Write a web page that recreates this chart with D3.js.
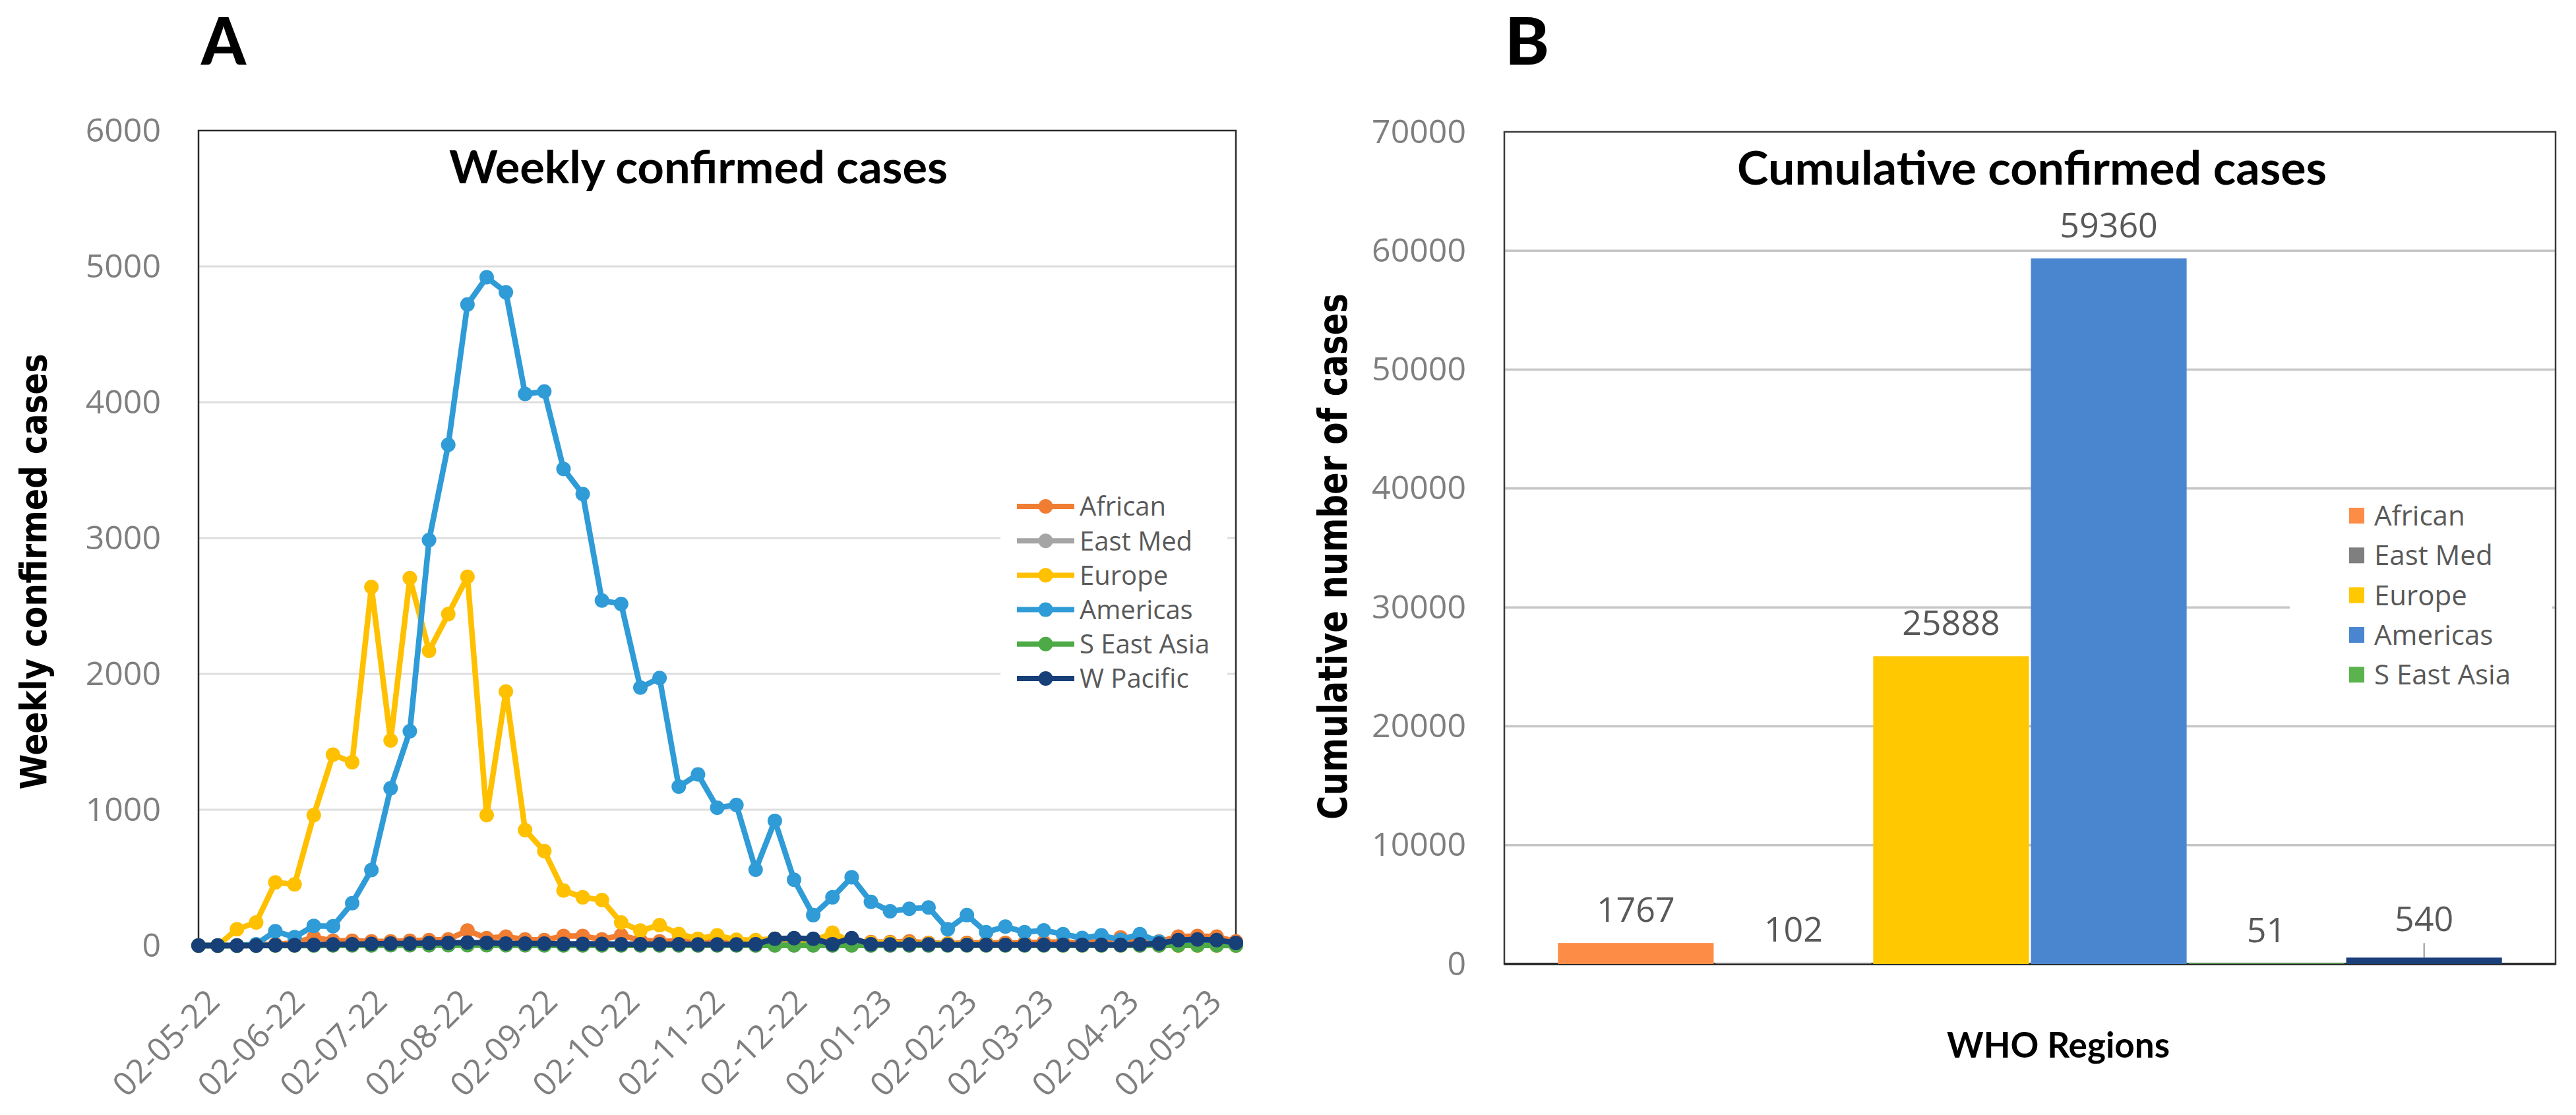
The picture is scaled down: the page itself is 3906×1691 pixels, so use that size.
<!DOCTYPE html>
<html><head><meta charset="utf-8">
<script src="https://cdn.jsdelivr.net/npm/d3@7"></script>
<style>
html,body{margin:0;padding:0;background:#fff;}
svg{display:block;}
</style>
</head><body>
<svg id="chart" width="3906" height="1691"></svg>
<script>
// ---------------- DATA ----------------
const regions = ["African", "East Med", "Europe", "Americas", "S East Asia", "W Pacific"];
const firstWeek = "2022-05-02";
const xTickDates = ["2022-05-02","2022-06-02","2022-07-02","2022-08-02","2022-09-02","2022-10-02",
  "2022-11-02","2022-12-02","2023-01-02","2023-02-02","2023-03-02","2023-04-02","2023-05-02"];
const yTicksA = [0, 1000, 2000, 3000, 4000, 5000, 6000];
const yTicksB = [0, 10000, 20000, 30000, 40000, 50000, 60000, 70000];

// weekly confirmed cases (55 weeks)
const weeklyAfrican = [0,0,0,5,10,20,60,35,35,30,30,35,40,45,110,55,65,45,40,70,70,45,75,40,30,35,25,30,30,25,
  30,25,20,25,30,25,25,30,20,15,20,20,20,20,25,25,20,30,60,35,30,65,70,65,30];
const weeklyEastMed = [0,0,0,0,2,3,5,3,4,3,5,4,3,5,6,5,4,3,4,3,2,3,2,2,2,2,1,2,2,1,
  2,2,2,1,2,1,1,1,1,1,1,1,1,1,1,1,1,1,1,1,1,1,1,1,1];
const weeklyEurope = [0,0,120,170,465,450,960,1405,1350,2640,1510,2705,2170,2440,2715,960,1870,850,695,405,
  355,335,170,110,150,85,50,75,42,40,50,42,30,95,25,20,20,15,15,12,10,8,6,5,4,3,3,2,2,2,2,1,1,1,1];
const weeklyAmericas = [0,0,0,10,105,62,145,142,312,556,1158,1578,2985,3687,4720,4920,4809,4061,4079,3509,
  3324,2540,2515,1899,1970,1170,1260,1015,1035,558,918,484,224,355,503,322,252,271,280,120,
  224,98,140,98,112,84,56,75,42,84,28,28,25,28,10];
const weeklySEAsia = [0,0,0,0,0,0,0,1,1,1,2,2,2,3,2,2,2,2,1,1,1,1,1,1,1,1,1,1,1,1,
  1,1,1,1,1,1,1,1,1,1,1,1,1,1,1,1,1,1,1,1,1,1,1,1,0];
const weeklyWPacific = [0,0,0,0,2,3,5,8,10,12,15,15,18,20,22,20,15,15,15,12,12,12,10,10,10,10,8,8,8,10,
  50,55,50,10,55,10,8,8,8,5,5,5,5,5,5,5,5,5,5,10,15,40,45,40,20];

// cumulative confirmed cases by WHO region
const cumulativeTotals = [1767, 102, 25888, 59360, 51, 540];
const legendBRegions = ["African", "East Med", "Europe", "Americas", "S East Asia"];

// ---------------- STYLE ----------------
const lineColors = ["#f07d32", "#a5a5a5", "#ffc000", "#2f9bd7", "#4eaa46", "#173f78"];
const barColors  = ["#fd8c47", "#7f7f7f", "#ffc800", "#4a86cf", "#5bb34d", "#1a3f7a"];
const tickFont = "'Open Sans', sans-serif";
const titleFont = "Lato, 'Open Sans', sans-serif";
const axisTitleFont = "'DejaVu Sans', Verdana, sans-serif";

const svg = d3.select("#chart");
const parse = d3.utcParse("%Y-%m-%d");
const fmt = d3.utcFormat("%d-%m-%y");
const weeklySeries = [weeklyAfrican, weeklyEastMed, weeklyEurope, weeklyAmericas, weeklySEAsia, weeklyWPacific];

// ================= PANEL A =================
const A = {left: 301, right: 1874, top: 198, bottom: 1434};
const start = parse(firstWeek);
const weekDates = weeklyAfrican.map((_, i) => d3.utcDay.offset(start, 7 * i));
const xA = d3.scaleUtc().domain([weekDates[0], weekDates[weekDates.length - 1]]).range([A.left, A.right]);
const yA = d3.scaleLinear().domain([0, 6000]).range([A.bottom, A.top]);

const gA = svg.append("g");
// gridlines
gA.append("g").selectAll("line").data(yTicksA.filter(d => d > 0 && d < 6000)).join("line")
  .attr("x1", A.left).attr("x2", A.right)
  .attr("y1", d => yA(d)).attr("y2", d => yA(d))
  .attr("stroke", "#dedede").attr("stroke-width", 3);

// border
gA.append("rect").attr("x", A.left).attr("y", A.top)
  .attr("width", A.right - A.left).attr("height", A.bottom - A.top)
  .attr("fill", "none").attr("stroke", "#2b2b2b").attr("stroke-width", 2.5);

// y axis labels
const axA = gA.append("g").attr("transform", `translate(${A.left},0)`)
  .call(d3.axisLeft(yA).tickValues(yTicksA).tickSize(0).tickPadding(57).tickFormat(d3.format("d")));
axA.select(".domain").remove();
axA.selectAll("text").attr("font-family", tickFont).attr("font-size", 50).attr("fill", "#7f7f7f");

// x axis labels (rotated)
gA.append("g").selectAll("text").data(xTickDates.map(parse)).join("text")
  .attr("transform", d => `translate(${xA(d) + 35},${A.bottom + 88}) rotate(-45)`)
  .attr("text-anchor", "end")
  .attr("font-family", tickFont).attr("font-size", 50).attr("fill", "#7f7f7f")
  .text(d => fmt(d));

// series
const line = d3.line().x((d, i) => xA(weekDates[i])).y(d => yA(d));
weeklySeries.forEach((vals, k) => {
  const g = gA.append("g");
  g.append("path").datum(vals).attr("d", line)
    .attr("fill", "none").attr("stroke", lineColors[k]).attr("stroke-width", 8.5)
    .attr("stroke-linejoin", "round").attr("stroke-linecap", "round");
  g.selectAll("circle").data(vals).join("circle")
    .attr("cx", (d, i) => xA(weekDates[i])).attr("cy", d => yA(d)).attr("r", 11)
    .attr("fill", lineColors[k]);
});

// legend A
const legA = gA.append("g");
legA.append("rect").attr("x", 1517).attr("y", 742).attr("width", 344).attr("height", 316).attr("fill", "#fff");
regions.forEach((r, k) => {
  const yy = 768 + 52.2 * k;
  legA.append("line").attr("x1", 1542).attr("x2", 1629).attr("y1", yy).attr("y2", yy)
    .attr("stroke", lineColors[k]).attr("stroke-width", 8);
  legA.append("circle").attr("cx", 1585.5).attr("cy", yy).attr("r", 11).attr("fill", lineColors[k]);
  legA.append("text").attr("x", 1637).attr("y", yy).attr("dy", "0.36em")
    .attr("font-family", tickFont).attr("font-size", 40).attr("fill", "#595959").text(r);
});

// titles A
svg.append("text").attr("x", 305).attr("y", 98).attr("font-family", titleFont).attr("font-weight", 900)
  .attr("font-size", 100).attr("textLength", 68).attr("lengthAdjust", "spacingAndGlyphs")
  .attr("fill", "#000").text("A");
svg.append("text").attr("x", 1059).attr("y", 278).attr("text-anchor", "middle")
  .attr("font-family", titleFont).attr("font-weight", 700).attr("font-size", 68)
  .attr("textLength", 756).attr("lengthAdjust", "spacingAndGlyphs").attr("fill", "#000")
  .text("Weekly confirmed cases");
svg.append("text").attr("transform", "translate(70,867) rotate(-90)").attr("text-anchor", "middle")
  .attr("font-family", axisTitleFont).attr("font-weight", 700).attr("font-size", 56)
  .attr("textLength", 661).attr("lengthAdjust", "spacingAndGlyphs").attr("fill", "#000")
  .text("Weekly confirmed cases");

// ================= PANEL B =================
const B = {left: 2281, right: 3875, top: 200, bottom: 1462};
const xB = d3.scaleBand().domain(regions).range([B.left, B.right]).paddingInner(0.012).paddingOuter(0.34);
const yB = d3.scaleLinear().domain([0, 70000]).range([B.bottom, B.top]);
const gB = svg.append("g");

gB.append("g").selectAll("line").data(yTicksB.filter(d => d > 0 && d < 70000)).join("line")
  .attr("x1", B.left).attr("x2", B.right)
  .attr("y1", d => yB(d)).attr("y2", d => yB(d))
  .attr("stroke", "#c6c6c6").attr("stroke-width", 3.5);

gB.append("rect").attr("x", B.left).attr("y", B.top)
  .attr("width", B.right - B.left).attr("height", B.bottom - B.top)
  .attr("fill", "none").attr("stroke", "#3a3a3a").attr("stroke-width", 2.5);
gB.append("line").attr("x1", B.left).attr("x2", B.right).attr("y1", B.bottom).attr("y2", B.bottom)
  .attr("stroke", "#222").attr("stroke-width", 3.5);

const axB = gB.append("g").attr("transform", `translate(${B.left},0)`)
  .call(d3.axisLeft(yB).tickValues(yTicksB).tickSize(0).tickPadding(58).tickFormat(d3.format("d")));
axB.select(".domain").remove();
axB.selectAll("text").attr("font-family", tickFont).attr("font-size", 50).attr("fill", "#7f7f7f");

gB.append("g").selectAll("rect").data(cumulativeTotals).join("rect")
  .attr("x", (d, i) => xB(regions[i])).attr("width", xB.bandwidth())
  .attr("y", d => yB(d)).attr("height", d => B.bottom - yB(d))
  .attr("fill", (d, i) => barColors[i]);

// data labels (the W Pacific label is lifted with a leader line, as in the figure)
const leaderIdx = regions.indexOf("W Pacific");
gB.append("g").selectAll("text").data(cumulativeTotals).join("text")
  .attr("x", (d, i) => xB(regions[i]) + xB.bandwidth() / 2)
  .attr("y", (d, i) => yB(d) - (i === leaderIdx ? 40 : 32))
  .attr("text-anchor", "middle").attr("font-family", tickFont).attr("font-size", 52)
  .attr("fill", "#595959").text(d => d);
gB.append("line")
  .attr("x1", xB("W Pacific") + xB.bandwidth() / 2).attr("x2", xB("W Pacific") + xB.bandwidth() / 2)
  .attr("y1", yB(cumulativeTotals[leaderIdx]) - 22).attr("y2", yB(cumulativeTotals[leaderIdx]))
  .attr("stroke", "#595959").attr("stroke-width", 1.5);

// legend B
const legB = gB.append("g");
legB.append("rect").attr("x", 3472).attr("y", 752).attr("width", 398).attr("height", 302).attr("fill", "#fff");
legendBRegions.forEach((r, k) => {
  const yy = 782 + 60.3 * k;
  legB.append("rect").attr("x", 3562).attr("y", yy - 12).attr("width", 23).attr("height", 24)
    .attr("fill", barColors[regions.indexOf(r)]);
  legB.append("text").attr("x", 3600).attr("y", yy).attr("dy", "0.36em")
    .attr("font-family", tickFont).attr("font-size", 42).attr("fill", "#595959").text(r);
});

// titles B
svg.append("text").attr("x", 2282).attr("y", 98).attr("font-family", titleFont).attr("font-weight", 900)
  .attr("font-size", 100).attr("textLength", 67).attr("lengthAdjust", "spacingAndGlyphs")
  .attr("fill", "#000").text("B");
svg.append("text").attr("x", 3081).attr("y", 280).attr("text-anchor", "middle")
  .attr("font-family", titleFont).attr("font-weight", 700).attr("font-size", 70)
  .attr("textLength", 894).attr("lengthAdjust", "spacingAndGlyphs").attr("fill", "#000")
  .text("Cumulative confirmed cases");
svg.append("text").attr("transform", "translate(2042,844) rotate(-90)").attr("text-anchor", "middle")
  .attr("font-family", axisTitleFont).attr("font-weight", 700).attr("font-size", 60)
  .attr("textLength", 798).attr("lengthAdjust", "spacingAndGlyphs").attr("fill", "#000")
  .text("Cumulative number of cases");
svg.append("text").attr("x", 3121).attr("y", 1604).attr("text-anchor", "middle")
  .attr("font-family", titleFont).attr("font-weight", 700).attr("font-size", 54)
  .attr("textLength", 338).attr("lengthAdjust", "spacingAndGlyphs").attr("fill", "#000")
  .text("WHO Regions");
</script>
</body></html>
